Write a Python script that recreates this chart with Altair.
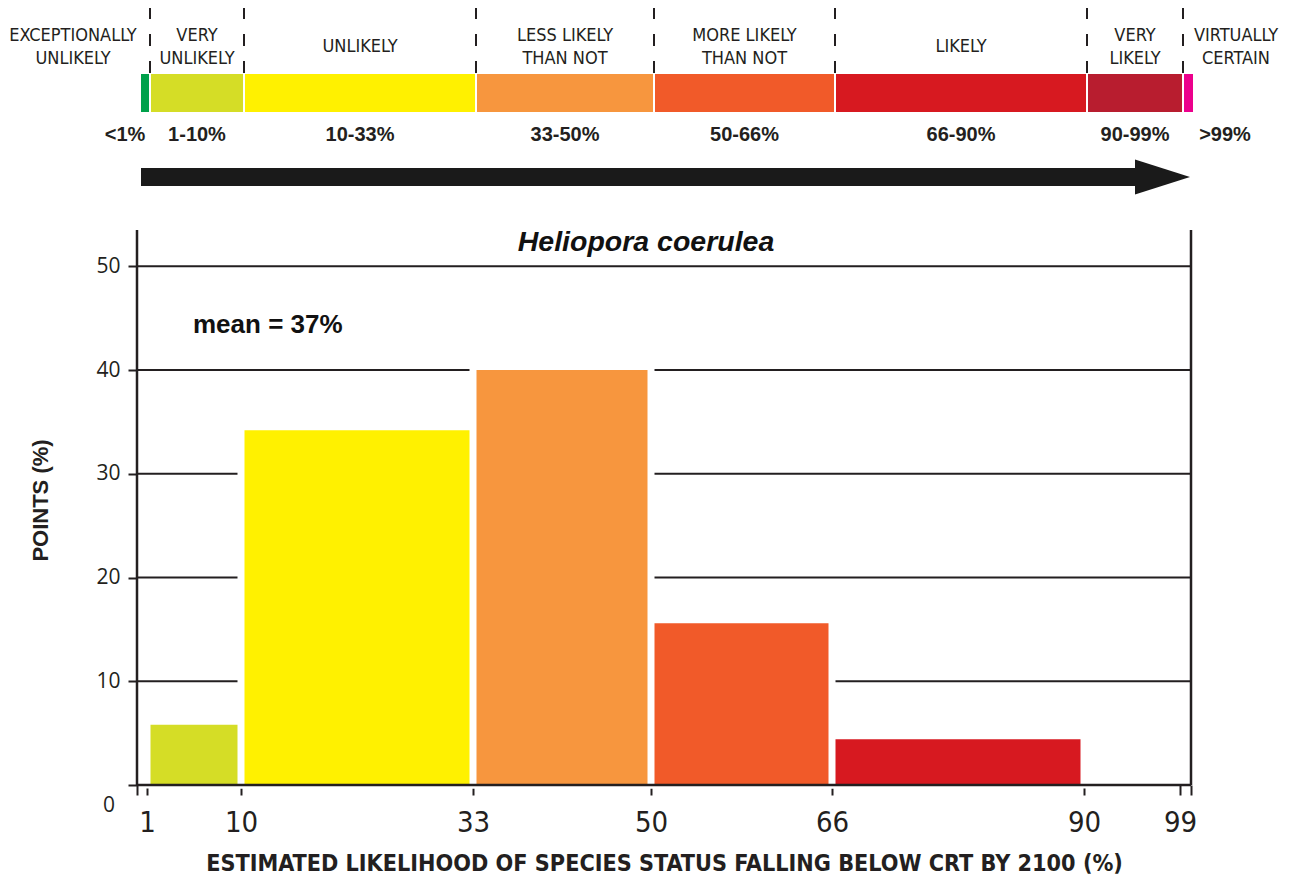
import altair as alt
import pandas as pd

# ---------------- data ----------------
# likelihood scale (top band)
band_lo = [0, 1, 10, 33, 50, 66, 90, 99]
band_hi = [1, 10, 33, 50, 66, 90, 99, 100]
band_names = ["EXCEPTIONALLY\nUNLIKELY", "VERY\nUNLIKELY", "UNLIKELY", "LESS LIKELY\nTHAN NOT",
              "MORE LIKELY\nTHAN NOT", "LIKELY", "VERY\nLIKELY", "VIRTUALLY\nCERTAIN"]
band_ranges = ["<1%", "1-10%", "10-33%", "33-50%", "50-66%", "66-90%", "90-99%", ">99%"]
band_colors = ["#00a14b", "#d5dd26", "#fff100", "#f7963e", "#f15a29", "#d71920", "#b81d2f", "#ec008c"]
band_bounds = [1, 10, 33, 50, 66, 90, 99]

# histogram of points
bin_lo = [1, 10, 33, 50, 66]
bin_hi = [10, 33, 50, 66, 90]
points_pct = [5.8, 34.2, 40.0, 15.6, 4.4]
bin_colors = ["#d5dd26", "#fff100", "#f7963e", "#f15a29", "#d71920"]

x_ticks = [0, 1, 10, 33, 50, 66, 90, 99, 100]
y_ticks = [0, 10, 20, 30, 40, 50]
grid_vals = [10, 20, 30, 40, 50]
axis_top = 53.5

species = "Heliopora coerulea"
mean_label = "mean = 37%"
x_title = "ESTIMATED LIKELIHOOD OF SPECIES STATUS FALLING BELOW CRT BY 2100 (%)"
y_title = "POINTS (%)"

# ---------------- styles ----------------
INK = "#231f20"
NARROW = "Liberation Sans Narrow, DejaVu Sans Condensed, sans-serif"
SANS = "Liberation Sans, Arial, sans-serif"
MYR = "Open Sans, Noto Sans, sans-serif"
BDX = 3  # small horizontal shift of the top band

xscale = alt.Scale(domain=x_ticks, range=[0, 10, 104, 336, 514, 695, 947, 1043, 1054],
                   nice=False, zero=False)
yscale = alt.Scale(domain=[0, 74.9], nice=False, zero=False)

band = pd.DataFrame({"lo": band_lo, "hi": band_hi, "name": band_names,
                     "rng": band_ranges, "color": band_colors})
hist = pd.DataFrame({"lo": bin_lo, "hi": bin_hi, "pct": points_pct, "color": bin_colors,
                     "base": [0] * len(bin_lo)})
bounds = pd.DataFrame({"b": band_bounds})
grid = pd.DataFrame({"g": grid_vals, "x0": [0] * len(grid_vals), "x1": [100] * len(grid_vals)})
vaxes = pd.DataFrame({"x": [0, 100], "y0": [0, 0], "y1": [axis_top, axis_top]})
haxis = pd.DataFrame({"x0": [0], "x1": [100], "y": [0]})
one = pd.DataFrame({"a": [0]})

X = lambda f: alt.X(f, scale=xscale)
Y = lambda f: alt.Y(f, scale=yscale)

# ---------------- top band ----------------
band_bar = alt.Chart(band).mark_bar(stroke="white", strokeWidth=2, xOffset=BDX, x2Offset=BDX).encode(
    x=X("lo:Q"), x2="hi:Q",
    y=alt.value(65), y2=alt.value(105),
    color=alt.Color("color:N", scale=None))

dashes = alt.Chart(bounds).mark_rule(strokeDash=[12, 15], strokeWidth=2, color=INK,
                                     xOffset=BDX).encode(
    x=X("b:Q"), y=alt.value(-1), y2=alt.value(65))

txt_name = dict(lineBreak="\n", baseline="middle", align="center", font=NARROW, fontSize=18,
                lineHeight=23, color=INK)
two_line = "indexof(datum.name, '\\n') >= 0"
names_mid2 = alt.Chart(band).transform_filter(
    "datum.lo >= 1 && datum.hi <= 99 && " + two_line).transform_calculate(
    mid="(datum.lo + datum.hi) / 2").mark_text(dx=BDX, **txt_name).encode(
    x=X("mid:Q"), y=alt.value(28), text="name:N")
names_mid1 = alt.Chart(band).transform_filter(
    "datum.lo >= 1 && datum.hi <= 99 && !(" + two_line + ")").transform_calculate(
    mid="(datum.lo + datum.hi) / 2").mark_text(dx=BDX, **txt_name).encode(
    x=X("mid:Q"), y=alt.value(39), text="name:N")
names_left = alt.Chart(band).transform_filter("datum.lo == 0").mark_text(
    dx=-64, **txt_name).encode(
    x=X("lo:Q"), y=alt.value(28), text="name:N")
names_right = alt.Chart(band).transform_filter("datum.hi == 100").mark_text(
    dx=45, **txt_name).encode(
    x=X("hi:Q"), y=alt.value(28), text="name:N")

txt_rng = dict(baseline="alphabetic", align="center", font=SANS, fontSize=20, fontWeight="bold",
               color=INK)
rng_mid = alt.Chart(band).transform_filter("datum.lo >= 1 && datum.hi <= 99").transform_calculate(
    mid="(datum.lo + datum.hi) / 2").mark_text(dx=BDX, **txt_rng).encode(
    x=X("mid:Q"), y=alt.value(133), text="rng:N")
rng_left = alt.Chart(band).transform_filter("datum.lo == 0").mark_text(dx=-12, **txt_rng).encode(
    x=X("lo:Q"), y=alt.value(133), text="rng:N")
rng_right = alt.Chart(band).transform_filter("datum.hi == 100").mark_text(dx=34, **txt_rng).encode(
    x=X("hi:Q"), y=alt.value(133), text="rng:N")

shaft = alt.Chart(one).mark_rule(strokeWidth=18, color="#1a1a1a", strokeCap="butt").encode(
    x=alt.value(4), x2=alt.value(1000), y=alt.value(169))
head = alt.Chart(one).mark_point(shape="M -1 -0.636 L 1 0 L -1 0.636 Z", filled=True,
                                 size=3025, color="#1a1a1a", opacity=1, strokeWidth=0).encode(
    x=alt.value(1025.5), y=alt.value(169))

# ---------------- histogram ----------------
xaxis = alt.Axis(values=x_ticks, format="d",
                 labelExpr="(datum.value == 0 || datum.value == 100) ? '' : datum.label",
                 domain=False, grid=False, tickSize=10, tickWidth=2, tickColor=INK,
                 labelFont=NARROW, labelFontSize=29, labelColor=INK, labelPadding=13,
                 labelFlush=False, labelOverlap=False,
                 title=x_title, titleFont=NARROW, titleFontSize=23.2, titleFontWeight="bold",
                 titleColor=INK, titleX=527, titleY=85, titleAlign="center",
                 titleBaseline="alphabetic")
yaxis = alt.Axis(values=y_ticks, format="d",
                 labelExpr="datum.value == 0 ? '' : datum.label",
                 domain=False, grid=False, tickSize=9, tickWidth=2, tickColor=INK,
                 labelFont=MYR, labelFontSize=21, labelColor=INK, labelPadding=8,
                 labelOverlap=False, labelFlush=False,
                 title=y_title, titleFont=SANS, titleFontSize=22, titleFontWeight="bold",
                 titleColor=INK, titleAngle=-90, titleX=-97, titleY=492,
                 titleAlign="center", titleBaseline="middle")

gridlines = alt.Chart(grid).mark_rule(strokeWidth=2, color=INK).encode(
    y=Y("g:Q"), x=X("x0:Q"), x2="x1:Q")

halo = alt.Chart(hist).mark_bar(color="white", stroke="white", strokeWidth=7).encode(
    x=X("lo:Q"), x2="hi:Q", y=Y("pct:Q"), y2="base:Q")

bars = alt.Chart(hist).mark_bar(xOffset=3.5, x2Offset=-3.5).encode(
    x=alt.X("lo:Q", scale=xscale, axis=xaxis), x2="hi:Q",
    y=alt.Y("pct:Q", scale=yscale, axis=yaxis), y2="base:Q",
    color=alt.Color("color:N", scale=None))

side_lines = alt.Chart(vaxes).mark_rule(strokeWidth=2.5, color=INK).encode(
    x=X("x:Q"), y=Y("y0:Q"), y2="y1:Q")
base_line = alt.Chart(haxis).mark_rule(strokeWidth=2.5, color=INK).encode(
    y=Y("y:Q"), x=X("x0:Q"), x2="x1:Q")

zero_lbl = alt.Chart(one).mark_text(text="0", align="right", baseline="alphabetic",
                                    font=MYR, fontSize=21, color=INK).encode(
    x=alt.value(-22), y=alt.value(804))

title_txt = alt.Chart(one).mark_text(text=species, align="center", baseline="alphabetic",
                                     font=SANS, fontSize=28.5, fontWeight="bold",
                                     fontStyle="italic", color="#111").encode(
    x=alt.value(509), y=alt.value(243))
mean_txt = alt.Chart(one).mark_text(text=mean_label, align="left", baseline="alphabetic",
                                    font=SANS, fontSize=26, fontWeight="bold",
                                    color="#111").encode(
    x=alt.value(56), y=alt.value(325))

chart = alt.layer(
    gridlines, halo, bars, side_lines, base_line, zero_lbl, title_txt, mean_txt,
    band_bar, dashes, names_mid2, names_mid1, names_left, names_right,
    rng_mid, rng_left, rng_right, shaft, head
).properties(
    width=1054, height=777,
    padding={"left": 129, "top": 0, "right": 92, "bottom": 90},
    autosize=alt.AutoSizeParams(type="none"),
).configure_view(strokeWidth=0)

chart.save("out.html", embed_options={"renderer": "svg", "actions": False})
